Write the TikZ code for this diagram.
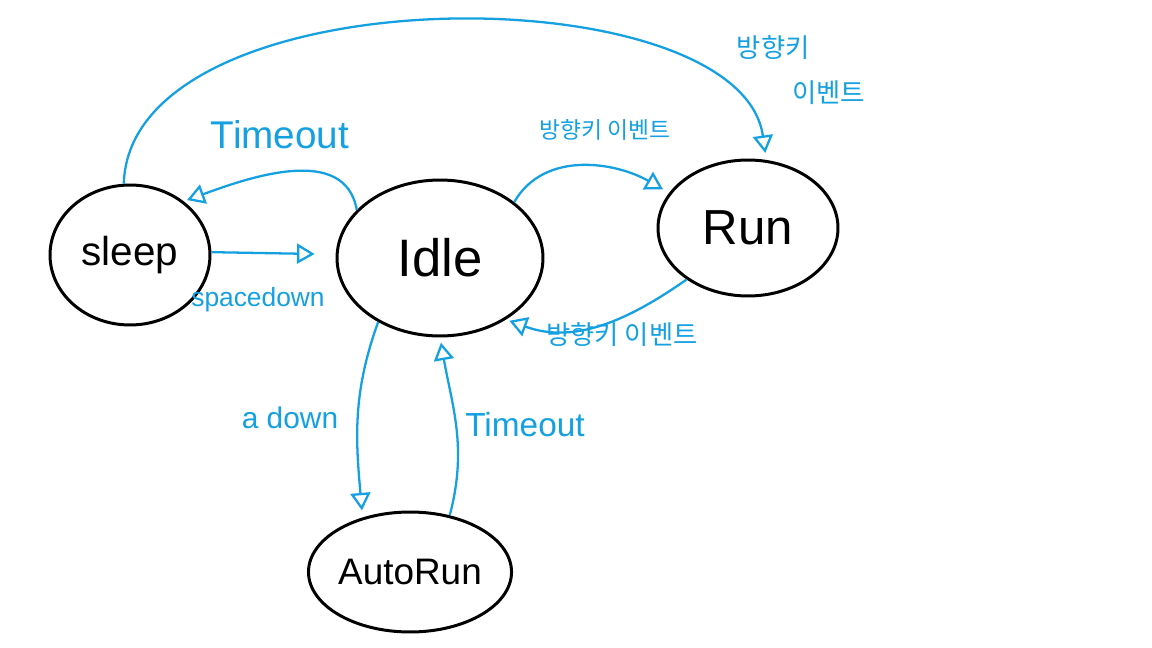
\documentclass[tikz,border=0pt]{standalone}
\usepackage{fontspec}
\setmainfont{Liberation Sans}
\newfontfamily\kor{Noto Sans CJK KR}
\usetikzlibrary{shapes.geometric,arrows.meta}
\definecolor{pen}{RGB}{20,160,225}
\tikzset{
    state/.style={draw=black,line width=1.7pt,ellipse,inner sep=0pt},
    flow/.style={draw=pen,line width=1.3pt,-{Triangle[open,length=3.5mm,width=4mm]}},
    lbl/.style={text=pen,font=\fontsize{19}{22}\selectfont}
}

\begin{document}
\begin{tikzpicture}[x=0.02cm,y=0.02cm]
    \useasboundingbox (0,0) rectangle (1152,-648);
    \node[state,minimum width=3.2cm,minimum height=2.8cm,font=\fontsize{23}{28}\selectfont] (sleep) at (130,-255) {sleep};
    \node[state,minimum width=4.12cm,minimum height=3.12cm,font=\fontsize{30}{34}\selectfont] (idle) at (440,-258) {Idle};
    \node[state,minimum width=3.6cm,minimum height=2.72cm,font=\fontsize{28}{32}\selectfont] (run) at (748,-228) {Run};
    \node[state,minimum width=3.6cm,minimum height=2.4cm,font=\fontsize{21}{24}\selectfont] (auto) at (410,-572) {AutoRun};
    % transitions
    \draw[flow,shorten >=12pt] (sleep.2) -- (idle.178);
    \draw[flow,shorten >=2pt] (idle.150) to[out=100,in=20] (sleep.45);
    \draw[flow,shorten >=4pt] (idle.37) to[out=60,in=150] (run.156);
    \draw[flow,shorten >=2pt] (run.220) to[out=215,in=-20] (idle.317);
    \draw[flow,shorten >=4pt] (idle.226) to[out=250,in=95] (auto.131);
    \draw[flow,shorten >=3pt] (auto.55) to[out=75,in=-80] (idle.270);
    \draw[flow,shorten >=4pt] (sleep.95) .. controls (130,28) and (740,28) .. (run.75);
    % labels
    \node[lbl,font=\fontsize{22}{26}\selectfont] (tout1) at (280,-135) {Timeout};
    \node[lbl,font=\fontsize{15}{18}\selectfont] (spdn) at (258,-300) {spacedown};
    \node[lbl,font=\kor\fontsize{13}{16}\selectfont] (key1) at (605,-130) {방향키 이벤트};
    \node[lbl,font=\kor\fontsize{15}{18}\selectfont] (key2) at (622,-335) {방향키 이벤트};
    \node[lbl,font=\fontsize{17}{20}\selectfont] (adn) at (290,-418) {a down};
    \node[lbl] (tout2) at (525,-425) {Timeout};
    \node[lbl,align=left,font=\kor\fontsize{15}{26}\selectfont] (key3) at (801,-70) {방향키\\\hspace*{2.1em}이벤트};
\end{tikzpicture}
\end{document}
